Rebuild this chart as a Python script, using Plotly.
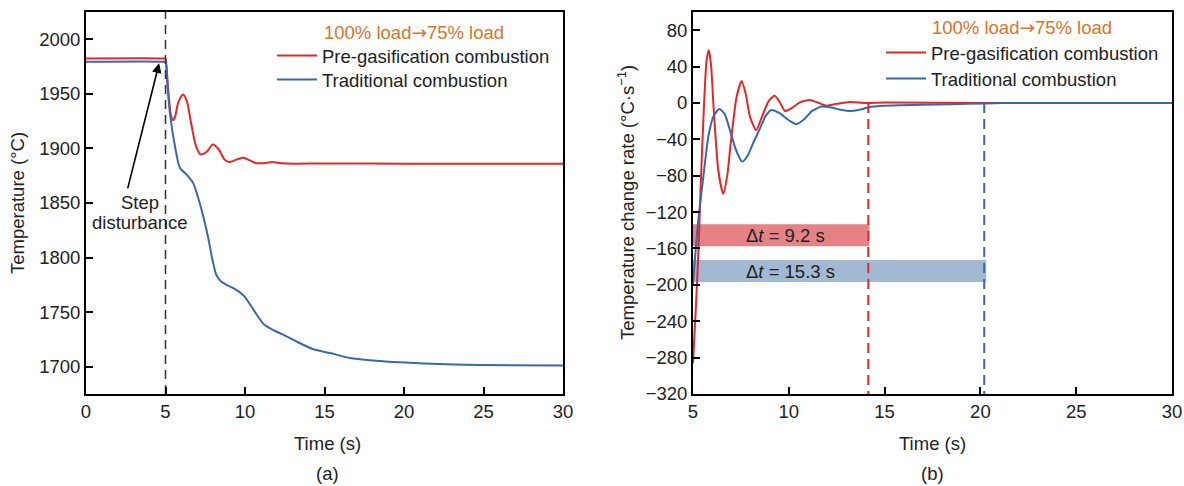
import plotly.graph_objects as go

W, H = 1184, 486

# ---------------- data: panel (a) temperature ----------------
t_pre_a = [0, 4.9, 5.0, 5.1, 5.22, 5.35, 5.47, 5.6, 5.8, 6.1, 6.35, 6.6, 6.9, 7.2, 7.6, 7.97,
           8.35, 8.7, 9.0, 9.5, 9.9, 10.3, 10.7, 11.2, 11.7, 12.3, 13.0, 15.0, 20.0, 30.0]
T_pre_a = [1982.5, 1982.5, 1982.3, 1968, 1945, 1930, 1926, 1929, 1942, 1949.5, 1943, 1924,
           1903, 1894.5, 1897, 1903.5, 1899, 1890, 1887.5, 1890, 1891.5, 1889, 1886.5,
           1886.5, 1887.5, 1886.5, 1886, 1886.2, 1886, 1886]

t_trad_a = [0, 4.9, 5.0, 5.1, 5.28, 5.6, 5.91, 6.33, 6.75, 7.05, 7.38, 7.69, 7.95, 8.2, 8.5,
            8.9, 9.33, 9.96, 10.6, 11.2, 11.8, 12.4, 13.25, 14.3, 15.35, 16.6, 18.07, 19.75,
            22.7, 24.8, 30.0]
T_trad_a = [1979.5, 1979.5, 1979.2, 1962, 1932, 1901.5, 1882, 1876, 1868, 1855, 1837.5,
            1818, 1798, 1784, 1778, 1774.5, 1771.5, 1764.5, 1750.7, 1738.6, 1733.4, 1729.4,
            1723, 1716, 1712.5, 1708, 1705.7, 1704, 1702.2, 1701.5, 1701]

step_time = 5

# ---------------- data: panel (b) temperature change rate ----------------
t_pre_b = [5.0, 5.15, 5.28, 5.4, 5.54, 5.71, 5.83, 5.95, 6.06, 6.32, 6.58, 6.8, 6.95, 7.28,
           7.54, 7.75, 7.97, 8.3, 8.6, 8.95, 9.27, 9.55, 9.8, 10.2, 10.6, 11.1, 11.5, 11.96,
           12.5, 13.2, 14.0, 15.0, 20.0, 30.0]
R_pre_b = [-286, -225, -165, -92, -19, 47, 58, 40, 0, -74, -100, -78, -48, 7, 24, 10, -15,
           -30, -15, 2, 8, 0, -8.8, -5, 1, 3.3, 0.5, -3, -1, 1, 0, 0.5, 0, 0]

t_trad_b = [5.0, 5.1, 5.28, 5.54, 5.8, 6.06, 6.37, 6.65, 6.93, 7.25, 7.57, 7.85, 8.14, 8.5,
            8.8, 9.1, 9.5, 10.0, 10.4, 10.8, 11.2, 11.7, 12.2, 12.7, 13.26, 13.8, 14.2, 15.0,
            15.8, 17.0, 18.5, 20.2, 22.0, 30.0]
R_trad_b = [-200, -172, -128, -81, -37, -15, -6.6, -12, -30, -52, -64.5, -58, -44, -28, -14,
            -7.7, -11, -19, -23.4, -18, -9, -4, -5, -7.5, -8.8, -7, -4.4, -3, -2.5, -2,
            -1.5, -0.5, 0, 0]

settle_labels = ["Pre-gasification combustion", "Traditional combustion"]
settle_dt = [9.2, 15.3]          # settling time (s) after step
settle_bar_y = [-145.5, -184.8]  # vertical position of the Δt bands
settle_bar_h = 24
settle_text_x = 7.65

RED = "rgb(226,40,40)"
BLUE = "rgb(58,104,170)"
RED_BAR = "rgb(229,130,134)"
BLUE_BAR = "rgb(162,185,211)"
ORANGE = "rgb(217,116,42)"
FONT = "Arial, Liberation Sans, sans-serif"
TXT = "#222222"
FS = 18.5

fig = go.Figure()

# panel (a)
fig.add_trace(go.Scatter(x=t_pre_a, y=T_pre_a, mode="lines", name=settle_labels[0],
                         line=dict(color=RED, width=2, shape="spline", smoothing=0.7),
                         xaxis="x", yaxis="y", legend="legend"))
fig.add_trace(go.Scatter(x=t_trad_a, y=T_trad_a, mode="lines", name=settle_labels[1],
                         line=dict(color=BLUE, width=2, shape="spline", smoothing=0.7),
                         xaxis="x", yaxis="y", legend="legend2"))
fig.add_trace(go.Scatter(x=[step_time, step_time], y=[1675, 2025], mode="lines",
                         line=dict(color="#333333", width=1.5, dash="9px,6px"),
                         showlegend=False, xaxis="x", yaxis="y"))

# panel (b) bars
fig.add_trace(go.Bar(y=settle_bar_y, x=settle_dt, base=[step_time, step_time], orientation="h",
                     width=[settle_bar_h, settle_bar_h],
                     marker=dict(color=[RED_BAR, BLUE_BAR], line=dict(width=0)),
                     showlegend=False, hoverinfo="skip", xaxis="x2", yaxis="y2"))

fig.add_trace(go.Scatter(x=t_pre_b, y=R_pre_b, mode="lines", name=settle_labels[0],
                         line=dict(color=RED, width=2, shape="spline", smoothing=0.6),
                         xaxis="x2", yaxis="y2", legend="legend3"))
fig.add_trace(go.Scatter(x=t_trad_b, y=R_trad_b, mode="lines", name=settle_labels[1],
                         line=dict(color=BLUE, width=2, shape="spline", smoothing=0.6),
                         xaxis="x2", yaxis="y2", legend="legend4"))

end_pre = step_time + settle_dt[0] - 0.05
end_trad = step_time + settle_dt[1] - 0.1
fig.add_trace(go.Scatter(x=[end_pre, end_pre], y=[0, -320], mode="lines",
                         line=dict(color=RED, width=2, dash="10px,6px"),
                         showlegend=False, xaxis="x2", yaxis="y2"))
fig.add_trace(go.Scatter(x=[end_trad, end_trad], y=[0, -320], mode="lines",
                         line=dict(color=BLUE, width=2, dash="10px,6px"),
                         showlegend=False, xaxis="x2", yaxis="y2"))

def px_x(p):
    return p / W

def px_y(p):
    return 1 - p / H

axis_common = dict(showline=True, linecolor="black", linewidth=2, mirror=True,
                   ticks="inside", ticklen=7, tickwidth=2, tickcolor="black",
                   showgrid=False, zeroline=False, automargin=False,
                   tickfont=dict(family=FONT, size=FS, color=TXT))

def leg(x, y):
    return dict(x=px_x(x), y=px_y(y), xanchor="left", yanchor="middle",
                bgcolor="rgba(0,0,0,0)", font=dict(family=FONT, size=FS, color=TXT),
                itemwidth=40)

fig.update_layout(
    width=W, height=H,
    margin=dict(l=0, r=0, t=0, b=0),
    paper_bgcolor="white", plot_bgcolor="white",
    font=dict(family=FONT, size=FS, color=TXT),
    xaxis=dict(domain=[px_x(86), px_x(563)], range=[0, 30], tickvals=[0, 5, 10, 15, 20, 25, 30],
               anchor="y", **axis_common),
    yaxis=dict(domain=[px_y(394), px_y(12)], range=[1675, 2025],
               tickvals=[1700, 1750, 1800, 1850, 1900, 1950, 2000], anchor="x", **axis_common),
    xaxis2=dict(domain=[px_x(693), px_x(1172)], range=[5, 30], tickvals=[5, 10, 15, 20, 25, 30],
                anchor="y2", **axis_common),
    yaxis2=dict(domain=[px_y(394), px_y(12)], range=[-320, 100],
                tickvals=list(range(-320, 81, 40)), anchor="x2", **axis_common),
    legend=leg(272, 56),
    legend2=leg(272, 80),
    legend3=leg(881, 53),
    legend4=leg(881, 79),
    barmode="overlay",
    showlegend=True,
)

ann = []
def txt(text, x, y, **kw):
    d = dict(text=text, x=px_x(x), y=px_y(y), xref="paper", yref="paper", showarrow=False,
             font=dict(family=FONT, size=FS, color=kw.pop("color", TXT)))
    d.update(kw)
    ann.append(d)

arrow_txt = "100% load<span style='font-family:DejaVu Sans'>→</span>75% load"
txt(arrow_txt, 322, 32, xanchor="left", yanchor="middle", color=ORANGE)
txt(arrow_txt, 930, 28, xanchor="left", yanchor="middle", color=ORANGE)
txt("Time (s)", 327, 443, xanchor="center", yanchor="middle")
txt("Time (s)", 932, 443, xanchor="center", yanchor="middle")
txt("(a)", 327, 473, xanchor="center", yanchor="middle")
txt("(b)", 932, 473, xanchor="center", yanchor="middle")
txt("Temperature (°C)", 18, 203, xanchor="center", yanchor="middle", textangle=-90)
txt("Temperature change rate (°C·s<sup>−1</sup>)", 626, 203, xanchor="center",
    yanchor="middle", textangle=-90)
txt("Step", 140, 203, xanchor="center", yanchor="middle")
txt("disturbance", 140, 222, xanchor="center", yanchor="middle")

# Δt labels on the bands
for dt, yb in zip(settle_dt, settle_bar_y):
    ann.append(dict(text="Δ<i>t</i> = %.1f s" % dt, x=settle_text_x, y=yb, xref="x2", yref="y2",
                    xanchor="left", yanchor="middle", showarrow=False,
                    font=dict(family=FONT, size=FS, color=TXT)))

# arrow for step disturbance
ann.append(dict(x=4.6, y=1978, ax=2.6, ay=1862, xref="x", yref="y", axref="x", ayref="y",
                showarrow=True, arrowhead=2, arrowsize=1.2, arrowwidth=1.6, arrowcolor="black",
                text=""))

fig.update_layout(annotations=ann)

fig.write_html("out.html")
